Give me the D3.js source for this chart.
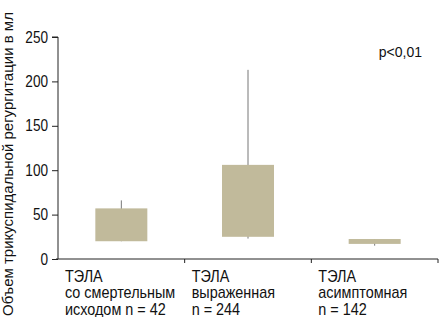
<!DOCTYPE html>
<html>
<head>
<meta charset="utf-8">
<script src="https://cdn.jsdelivr.net/npm/d3@7"></script>
<style>
  body { margin: 0; background: #fff; }
  svg text { font-family: "Liberation Sans", Arial, sans-serif; }
</style>
</head>
<body>
<div id="chart"></div>
<script>
// groups and box values (ml)
let groups = ["ТЭЛА со смертельным", "ТЭЛА выраженная", "ТЭЛА асимптомная"];
let labelLines = [
  ["ТЭЛА", "со смертельным", "исходом n = 42"],
  ["ТЭЛА", "выраженная", "n = 244"],
  ["ТЭЛА", "асимптомная", "n = 142"]
];
let whiskerLow = [20, 23, 15];
let boxLow = [20, 25, 17];
let boxHigh = [57, 106, 22.5];
let whiskerHigh = [66, 213, 22.5];
let yTicks = [0, 50, 100, 150, 200, 250];

let width = 439, height = 317,
    margin = { top: 37, left: 58, right: 1, bottom: 58 };

let svg = d3.select("#chart")
  .append("svg")
  .attr("width", width)
  .attr("height", height);

let x = d3.scaleBand()
  .domain(groups)
  .range([margin.left, width - margin.right]);

let y = d3.scaleLinear()
  .domain([0, 250])
  .range([height - margin.bottom, margin.top]);

let data = groups.map((g, i) => ({
  g, lines: labelLines[i],
  wl: whiskerLow[i], bl: boxLow[i], bh: boxHigh[i], wh: whiskerHigh[i]
}));

// y axis
let yAxis = svg.append("g")
  .attr("transform", `translate(${margin.left},0)`)
  .call(d3.axisLeft(y).tickValues(yTicks).tickSize(6).tickPadding(4));
yAxis.select(".domain").attr("d", `M-6,${y(250)}H0V${y(0)}`);
yAxis.selectAll("line, path").attr("stroke", "#222");
// condensed look: scale tick labels horizontally around their right edge
yAxis.selectAll(".tick text")
  .attr("font-size", 16)
  .attr("fill", "#111")
  .style("font-family", '"Liberation Sans", Arial, sans-serif')
  .attr("transform", "translate(-10,0) scale(0.85,1)")
  .attr("x", 0);

// x axis with ticks between the groups
let x0 = y(0);
svg.append("line")
  .attr("x1", margin.left - 2).attr("x2", width - margin.right)
  .attr("y1", x0).attr("y2", x0)
  .attr("stroke", "#222");
svg.append("g").selectAll("line")
  .data(groups.slice(1).concat(["end"]))
  .join("line")
  .attr("x1", (d, i) => margin.left + x.bandwidth() * (i + 1))
  .attr("x2", (d, i) => margin.left + x.bandwidth() * (i + 1))
  .attr("y1", x0).attr("y2", x0 + 4)
  .attr("stroke", "#222");

// whiskers
svg.append("g").selectAll("line")
  .data(data)
  .join("line")
  .attr("x1", d => x(d.g) + x.bandwidth() / 2)
  .attr("x2", d => x(d.g) + x.bandwidth() / 2)
  .attr("y1", d => y(d.wl))
  .attr("y2", d => y(d.wh))
  .attr("stroke", "#777")
  .attr("stroke-width", 1);

// boxes
let boxW = 52;
svg.append("g").selectAll("rect")
  .data(data)
  .join("rect")
  .attr("x", d => x(d.g) + x.bandwidth() / 2 - boxW / 2)
  .attr("y", d => y(d.bh))
  .attr("width", boxW)
  .attr("height", d => Math.max(1, y(d.bl) - y(d.bh)))
  .attr("fill", "#c1ba9b");

// category labels
let lab = svg.append("g").selectAll("text")
  .data(data)
  .join("text")
  .attr("transform", d => `translate(${x(d.g) + 7},282) scale(0.9,1)`)
  .attr("font-size", 16)
  .attr("fill", "#111");
lab.selectAll("tspan")
  .data(d => d.lines)
  .join("tspan")
  .attr("x", 0)
  .attr("y", (d, i) => i * 16.5)
  .text(d => d);

// p value
svg.append("text")
  .attr("x", 422).attr("y", 57)
  .attr("text-anchor", "end")
  .attr("font-size", 14)
  .attr("fill", "#111")
  .text("p<0,01");

// y title
svg.append("text")
  .attr("transform", "translate(13,316) rotate(-90)")
  .attr("font-size", 15)
  .attr("fill", "#111")
  .text("Объем трикуспидальной регургитации в мл");
</script>
</body>
</html>
